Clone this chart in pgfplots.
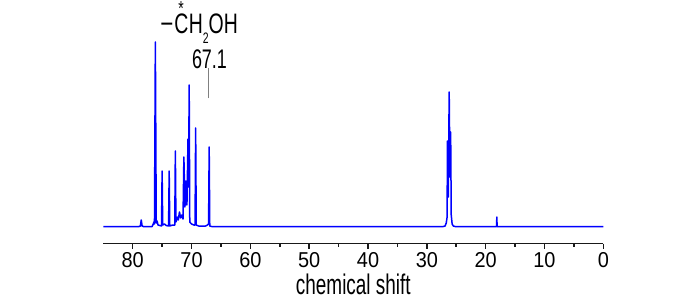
\documentclass[border=0pt]{standalone}
\usepackage{graphicx}
\usepackage{fontspec}
\setmainfont{Liberation Sans}
\usepackage{pgfplots}
\pgfplotsset{compat=1.18}
\begin{document}
\begin{tikzpicture}[x=1bp,y=1bp]
\path[use as bounding box] (0,0) rectangle (700,299);
\begin{axis}[
  at={(103.3bp,55.5bp)}, anchor=south west,
  scale only axis, width=500bp, height=216.5bp,
  xmin=0, xmax=85, x dir=reverse,
  ymin=-16.5, ymax=200,
  clip=false,
  axis x line=bottom, axis y line=none,
  axis line style={-, line width=1.5bp, black!90},
  xtick={0,10,...,80}, minor x tick num=1,
  tick align=outside,
  major tick length=5bp, minor tick length=3bp,
  every tick/.style={line width=1.5bp, black!90},
  xticklabel style={font=\fontsize{20}{20}\selectfont, text=black},
  xticklabel={\scalebox{1}[1.08]{\pgfmathprintnumber{\tick}}},
  /pgf/number format/assume math mode=true,
  xlabel={\scalebox{1}[1.5]{\fontsize{19}{19}\selectfont chemical shift}},
  xlabel style={at={(axis description cs:0.5,0)}, anchor=base, yshift=-50.5bp, inner sep=0pt},
]
\addplot[blue, line width=1.5bp, line join=round] coordinates {
(85,0.3) (79.0,0.3) (78.7,1) (78.55,7) (78.4,1) (78.1,0.3)
(76.7,0.5) (76.5,3) (76.4,5) (76.3,3) (76.15,185) (76.0,4) (75.85,6) (75.7,2)
(75.1,1) (75.0,56) (74.9,2) (74.6,3) (74.3,1.5) (73.9,1) (73.8,56) (73.7,1)
(73.2,2) (72.85,2) (72.75,76) (72.65,5) (72.4,10) (72.25,7) (72.05,15) (71.85,9)
(71.65,12) (71.45,8) (71.3,70) (71.12,20) (70.95,46) (70.78,22) (70.6,88) (70.5,40)
(70.4,142) (70.3,5) (70.0,3) (69.6,2) (69.4,2) (69.3,99) (69.2,2) (68.8,1)
(67.6,1) (67.3,2) (67.1,3) (67.0,80) (66.9,1) (66.6,0.5)
(27.2,0.5) (26.9,1) (26.7,4) (26.55,10) (26.5,86) (26.35,30) (26.2,135) (26.07,50)
(25.95,95) (25.85,12) (25.7,3) (25.5,1) (25.2,0.5)
(18.3,0.5) (18.15,0.5) (18.1,10) (18.05,0.5) (0,0.5)
};
\draw[gray, line width=1.2bp] (axis cs:67.1,128.7) -- (axis cs:67.1,158.7);
\end{axis}
\node[anchor=base west, inner sep=0pt] at (160.2,265.7) {\scalebox{1}[1.45]{\fontsize{19.5}{19.5}\selectfont \scalebox{1.15}[1]{−}\kern0.05em\rlap{\hspace{0.2em}\raisebox{12.5bp}{\fontsize{14}{14}\selectfont *}}C\kern0.02emH\raisebox{-6.8bp}{\fontsize{10.5}{10.5}\selectfont 2}OH}};
\node[anchor=base west, inner sep=0pt] at (191.8,230.7) {\scalebox{1}[1.5]{\fontsize{18}{18}\selectfont 67.1}};
\end{tikzpicture}
\end{document}
